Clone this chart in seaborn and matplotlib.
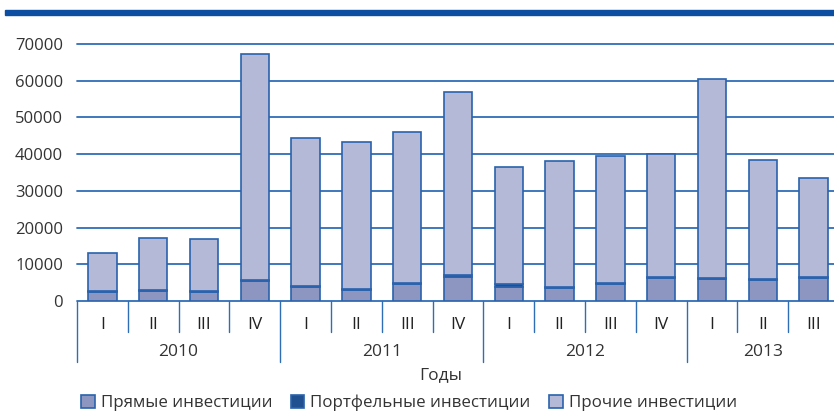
import pandas as pd
import matplotlib.pyplot as plt
import matplotlib.transforms as mtransforms
from matplotlib.patches import Rectangle
import seaborn as sns

# Quarters and years (2010 I - 2013 III)
years = ['2010', '2011', '2012', '2013']
quarters = ['I', 'II', 'III', 'IV'] * 3 + ['I', 'II', 'III']
year_of_bar = ['2010'] * 4 + ['2011'] * 4 + ['2012'] * 4 + ['2013'] * 3

# Values
direct = [2500, 2600, 2500, 5500, 3700, 3000, 4600, 6600,
          3700, 3600, 4600, 6300, 6100, 5600, 6300]
portfolio = [300, 500, 300, 250, 250, 250, 350, 350,
             1000, 300, 400, 300, 300, 300, 300]
totals = [13100, 17200, 17000, 67300, 44300, 43400, 46100, 56800,
          36500, 38200, 39600, 40100, 60400, 38300, 33500]

labels = ['Прямые инвестиции', 'Портфельные инвестиции', 'Прочие инвестиции']
colors = ['#8591c8', '#0d4ea3', '#adb5dc']
edge = '#2a62ad'
text_color = '#333333'

# Build data frame
df = pd.DataFrame({
    'period': [f'{y} {q}' for y, q in zip(year_of_bar, quarters)],
    'direct': direct,
    'portfolio': portfolio,
})
df['other'] = [t - d - p for t, d, p in zip(totals, direct, portfolio)]
df['base2'] = df['direct'] + df['portfolio']

sns.set_style('white')
plt.rcParams['font.family'] = ['Open Sans', 'DejaVu Sans']

fig = plt.figure(figsize=(8.34, 4.13), dpi=100)
ax = fig.add_axes([77 / 834, 112 / 413, 762 / 834, 257 / 413])

# Stacked bars: direct, portfolio, other
sns.barplot(x='period', y='direct', data=df, color=colors[0], width=0.56,
            edgecolor=edge, linewidth=1.2, label=labels[0], ax=ax, zorder=3)
sns.barplot(x='period', y='portfolio', data=df, color=colors[1], width=0.56,
            edgecolor=edge, linewidth=1.2, bottom=df['direct'],
            label=labels[1], ax=ax, zorder=3)
sns.barplot(x='period', y='other', data=df, color=colors[2], width=0.56,
            edgecolor=edge, linewidth=1.2, bottom=df['base2'],
            label=labels[2], ax=ax, zorder=3)

ax.set_xlim(-0.5, len(df) - 0.5)
ax.set_ylim(0, 70000)
ax.set_yticks(range(0, 70001, 10000))
ax.set_yticklabels([str(v) for v in range(0, 70001, 10000)],
                   fontsize=12, color=text_color)
ax.tick_params(axis='y', length=0, pad=10)
ax.set_xticks([])
ax.set_xlabel('')
ax.set_ylabel('')
for s in ax.spines.values():
    s.set_visible(False)

# Gridlines in blue
for v in range(0, 70001, 10000):
    ax.axhline(v, color='#2f6db5', linewidth=1.3, zorder=1, clip_on=False)

# Two-level x labels
trans = mtransforms.blended_transform_factory(ax.transData, ax.transAxes)
for i, q in enumerate(quarters):
    ax.text(i, -0.093, q, transform=trans, ha='center', va='center',
            fontsize=12.5, color='#222222')
for i in range(len(quarters) + 1):
    first_of_year = i == 0 or i == len(quarters) or quarters[i] == 'I'
    y_end = -0.237 if first_of_year else -0.12
    ax.plot([i - 0.5, i - 0.5], [0, y_end], transform=trans, color='#2f6db5',
            linewidth=1, clip_on=False)
for y in years:
    idx = [i for i, yy in enumerate(year_of_bar) if yy == y]
    ax.text((idx[0] + idx[-1]) / 2, -0.198, y, transform=trans, ha='center',
            va='center', fontsize=12.5, color=text_color)

fig.text(441 / 834, 1 - 375 / 413, 'Годы', ha='center', va='center',
         fontsize=12.5, color=text_color)

# Legend along the bottom
ax.legend(loc='center left', bbox_to_anchor=(66 / 834, 1 - 403 / 413),
          bbox_transform=fig.transFigure, ncol=3, frameon=False,
          fontsize=12.2, handlelength=0.8, handleheight=0.8,
          handletextpad=0.35, columnspacing=1.1, labelcolor=text_color)

# Blue band at the top
fig.add_artist(Rectangle((5 / 834, 1 - 15 / 413), 829 / 834, 5 / 413,
                         transform=fig.transFigure, color='#0b4ea2'))

fig.savefig('out.png', dpi=100)
